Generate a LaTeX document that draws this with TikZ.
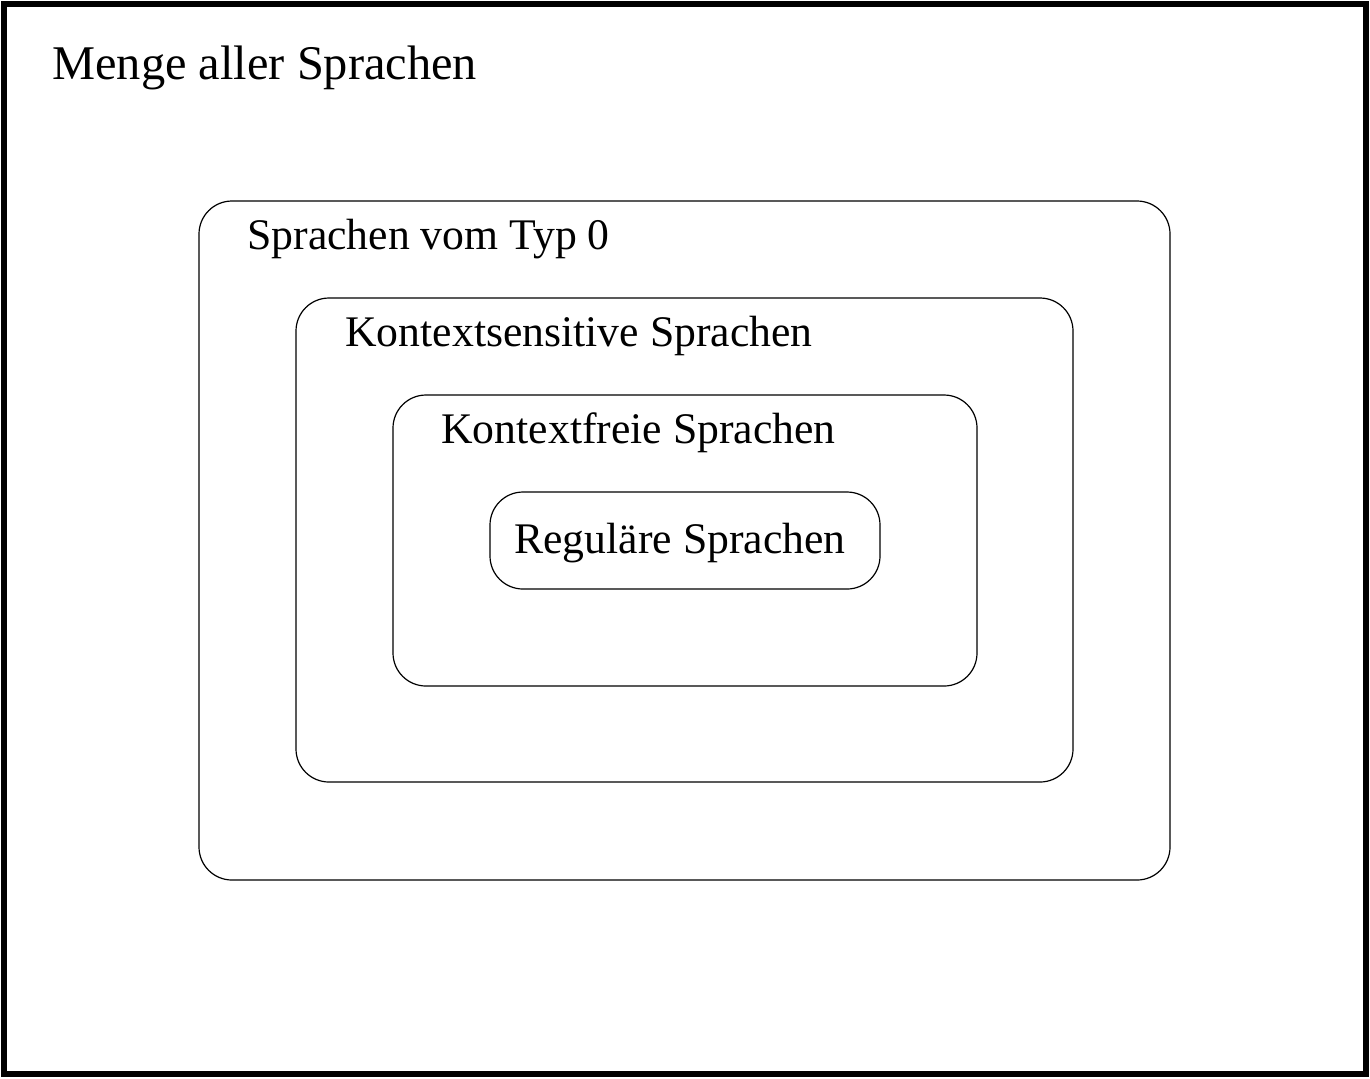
\documentclass[tikz,border=0pt]{standalone}
\usepackage{fontspec}
\setmainfont{Liberation Serif}
\begin{document}
\begin{tikzpicture}[x=0.5pt,y=-0.5pt,
  setbox/.style={draw, line width=0.6pt, rounded corners=16.5pt, inner sep=0pt},
  lbl/.style={anchor=base west, inner sep=0pt, font=\fontsize{21.85}{26}\selectfont},
  biglbl/.style={anchor=base west, inner sep=0pt, font=\fontsize{24.2}{29}\selectfont}]
\useasboundingbox (0,0) rectangle (1370,1078);
\node[draw, line width=3pt, inner sep=0pt, minimum width=681pt, minimum height=535pt] (all) at (685,539) {};
\node[biglbl] (tall) at (52,79) {Menge aller Sprachen};
\node[setbox, minimum width=485.5pt, minimum height=339.5pt] (t0) at (684.5,540.5) {};
\node[lbl] (lt0) at (247,249) {Sprachen vom Typ 0};
\node[setbox, minimum width=388.5pt, minimum height=242pt] (cs) at (684.5,540) {};
\node[lbl] (lcs) at (345,346) {Kontextsensitive Sprachen};
\node[setbox, minimum width=292pt, minimum height=145.5pt] (cf) at (685,540.5) {};
\node[lbl] (lcf) at (441,443) {Kontextfreie Sprachen};
\node[setbox, minimum width=195pt, minimum height=48.5pt] (reg) at (685,540.5) {};
\node[lbl] (lreg) at (514,553) {Reguläre Sprachen};
\end{tikzpicture}
\end{document}
